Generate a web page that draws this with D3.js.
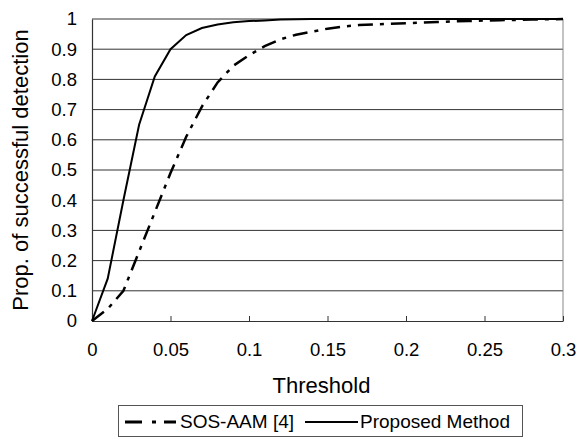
<!DOCTYPE html>
<html>
<head>
<meta charset="utf-8">
<script src="https://cdn.jsdelivr.net/npm/d3@7"></script>
<style>
  body { margin: 0; background: #fff; }
  text { font-family: "Liberation Sans", Arial, sans-serif; fill: #000; }
</style>
</head>
<body>
<div id="chart"></div>
<script>
var svgWidth = 579;
var svgHeight = 437;

var margin = { top: 19, right: 16, bottom: 116, left: 92 };
var width = svgWidth - margin.left - margin.right;
var height = svgHeight - margin.top - margin.bottom;

// data
var thresholds = [0, 0.01, 0.02, 0.03, 0.04, 0.05, 0.06, 0.07, 0.08, 0.09, 0.1,
  0.11, 0.12, 0.13, 0.14, 0.15, 0.16, 0.17, 0.18, 0.19, 0.2,
  0.21, 0.22, 0.23, 0.24, 0.25, 0.26, 0.27, 0.28, 0.29, 0.3];
var sosAam = [0, 0.04, 0.1, 0.23, 0.36, 0.49, 0.61, 0.71, 0.79, 0.845, 0.88,
  0.91, 0.933, 0.948, 0.958, 0.968, 0.975, 0.98, 0.982, 0.984, 0.986,
  0.988, 0.99, 0.992, 0.993, 0.995, 0.996, 0.997, 0.998, 0.999, 1.0];
var proposed = [0, 0.14, 0.40, 0.65, 0.81, 0.90, 0.947, 0.97, 0.982, 0.989, 0.993,
  0.995, 0.998, 0.999, 1, 1, 1, 1, 1, 1, 1,
  1, 1, 1, 1, 1, 1, 1, 1, 1, 1];
var xTicks = [0, 0.05, 0.1, 0.15, 0.2, 0.25, 0.3];
var yTicks = [0, 0.1, 0.2, 0.3, 0.4, 0.5, 0.6, 0.7, 0.8, 0.9, 1];
var seriesNames = ["SOS-AAM [4]", "Proposed Method"];

var svg = d3.select("#chart")
  .append("svg")
  .attr("width", svgWidth)
  .attr("height", svgHeight);

var chartGroup = svg.append("g")
  .attr("transform", `translate(${margin.left}, ${margin.top})`);

var xScale = d3.scaleLinear().domain([0, 0.3]).range([0, width]);
var yScale = d3.scaleLinear().domain([0, 1]).range([height, 0]);

// gridlines
chartGroup.selectAll(".grid")
  .data(yTicks.slice(1))
  .enter()
  .append("line")
  .attr("x1", 0)
  .attr("x2", width)
  .attr("y1", d => yScale(d))
  .attr("y2", d => yScale(d))
  .attr("stroke", "#333")
  .attr("stroke-width", 1);

// right border
chartGroup.append("line")
  .attr("x1", width).attr("x2", width)
  .attr("y1", 0).attr("y2", height)
  .attr("stroke", "#888");

// axes
var bottomAxis = d3.axisBottom(xScale)
  .tickValues(xTicks)
  .tickSizeInner(-5)
  .tickSizeOuter(0)
  .tickPadding(22)
  .tickFormat(d => d3.format("")(+d.toFixed(2)));

var leftAxis = d3.axisLeft(yScale)
  .tickValues(yTicks)
  .tickSize(0)
  .tickPadding(15)
  .tickFormat(d => d3.format("")(+d.toFixed(1)));

var xAxisG = chartGroup.append("g")
  .attr("transform", `translate(0, ${height})`)
  .call(bottomAxis);

var yAxisG = chartGroup.append("g")
  .call(leftAxis);

[xAxisG, yAxisG].forEach(function(g) {
  g.select(".domain").attr("stroke", "#333").attr("stroke-width", 1.2);
  g.selectAll(".tick line").attr("stroke", "#333");
  g.selectAll("text")
    .attr("font-size", "18.5px")
    .attr("font-family", "Liberation Sans, Arial, sans-serif")
    .attr("fill", "#000");
});

// lines
var line = d3.line()
  .x((d, i) => xScale(thresholds[i]))
  .y(d => yScale(d));

chartGroup.append("path")
  .datum(sosAam)
  .attr("d", line)
  .attr("fill", "none")
  .attr("stroke", "#000")
  .attr("stroke-width", 2.5)
  .attr("stroke-dasharray", "15,7,4,7");

chartGroup.append("path")
  .datum(proposed)
  .attr("d", line)
  .attr("fill", "none")
  .attr("stroke", "#000")
  .attr("stroke-width", 2);

// axis labels
chartGroup.append("text")
  .attr("transform", "rotate(-90)")
  .attr("x", -(height / 2) + 19 - 19)
  .attr("y", -margin.left + 28)
  .attr("text-anchor", "middle")
  .attr("font-size", "22px")
  .text("Prop. of successful detection");

chartGroup.append("text")
  .attr("x", width / 2 - 6)
  .attr("y", height + 72)
  .attr("text-anchor", "middle")
  .attr("font-size", "22px")
  .text("Threshold");

// legend
var legend = svg.append("g");
legend.append("rect")
  .attr("x", 118.5).attr("y", 405.5)
  .attr("width", 404).attr("height", 31)
  .attr("fill", "#fff")
  .attr("stroke", "#555");

legend.append("line")
  .attr("x1", 125).attr("x2", 176)
  .attr("y1", 422).attr("y2", 422)
  .attr("stroke", "#000").attr("stroke-width", 3)
  .attr("stroke-dasharray", "17,10,4,8");

legend.append("text")
  .attr("x", 180).attr("y", 428)
  .attr("font-size", "19px")
  .text(seriesNames[0]);

legend.append("line")
  .attr("x1", 305).attr("x2", 358)
  .attr("y1", 422).attr("y2", 422)
  .attr("stroke", "#000").attr("stroke-width", 2);

legend.append("text")
  .attr("x", 360).attr("y", 428)
  .attr("font-size", "19px")
  .text(seriesNames[1]);
</script>
</body>
</html>
